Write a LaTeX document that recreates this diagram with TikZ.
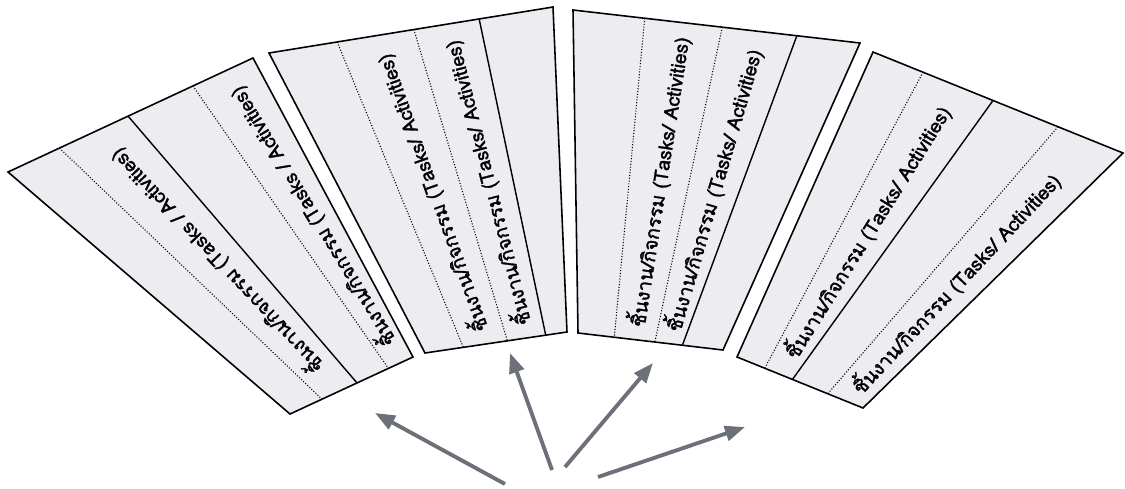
\documentclass[tikz,border=0pt]{standalone}
\usepackage{fontspec}
\newfontfamily\thaifont[Script=Thai, FakeBold=1.6]{Loma}
\usetikzlibrary{arrows.meta, calc}
\definecolor{isi}{RGB}{236,236,241}
\definecolor{abupanah}{RGB}{108,112,120}

\begin{document}
\begin{tikzpicture}[
    x=0.02cm, y=-0.02cm,
    lembar/.style={draw, line width=0.9pt, fill=isi},
    sekat/.style={line width=0.8pt},
    sekattitik/.style={line width=0.6pt, densely dotted},
    teks/.style={font=\thaifont\fontsize{11}{13}\selectfont, sloped,
                 allow upside down, anchor=west, inner sep=0pt},
    panah/.style={-{Triangle[length=4mm, width=3mm]}, line width=2.2pt, draw=abupanah}
  ]
    \useasboundingbox (0,0) rectangle (1125,488);

    % lembar 1 (kiri)
    \coordinate (a1) at (8,172);   \coordinate (b1) at (253,58);
    \coordinate (c1) at (413,357); \coordinate (d1) at (290,414);
    \draw[lembar] (a1) -- (b1) -- (c1) -- (d1) -- cycle;
    \draw[sekattitik] ($(a1)!.21!(b1)$) -- ($(d1)!.26!(c1)$);
    \draw[sekat] ($(a1)!.49!(b1)$) -- ($(d1)!.545!(c1)$);
    \draw[sekattitik] ($(a1)!.755!(b1)$) -- ($(d1)!.80!(c1)$);
    \path ($(d1)!.40!(c1)$) -- ($(a1)!.35!(b1)$)
      node[teks, pos=.08] (t1a) {ชิ้นงาน/กิจกรรม (Tasks / Activities)};
    \path ($(d1)!.90!(c1)$) -- ($(a1)!.88!(b1)$)
      node[teks, pos=.06] (t1b) {ชิ้นงาน/กิจกรรม (Tasks / Activities)};

    % lembar 2
    \coordinate (a2) at (269,53);  \coordinate (b2) at (553,7);
    \coordinate (c2) at (567,332); \coordinate (d2) at (425,353);
    \draw[lembar] (a2) -- (b2) -- (c2) -- (d2) -- cycle;
    \draw[sekattitik] ($(a2)!.24!(b2)$) -- ($(d2)!.27!(c2)$);
    \draw[sekattitik] ($(a2)!.51!(b2)$) -- ($(d2)!.58!(c2)$);
    \draw[sekat] ($(a2)!.74!(b2)$) -- ($(d2)!.85!(c2)$);
    \path ($(d2)!.425!(c2)$) -- ($(a2)!.375!(b2)$)
      node[teks, pos=.04] (t2a) {ชิ้นงาน/กิจกรรม (Tasks/ Activities)};
    \path ($(d2)!.715!(c2)$) -- ($(a2)!.625!(b2)$)
      node[teks, pos=.04] (t2b) {ชิ้นงาน/กิจกรรม (Tasks/ Activities)};

    % lembar 3
    \coordinate (a3) at (573,10);  \coordinate (b3) at (860,43);
    \coordinate (c3) at (723,350); \coordinate (d3) at (578,333);
    \draw[lembar] (a3) -- (b3) -- (c3) -- (d3) -- cycle;
    \draw[sekattitik] ($(a3)!.25!(b3)$) -- ($(d3)!.25!(c3)$);
    \draw[sekattitik] ($(a3)!.52!(b3)$) -- ($(d3)!.53!(c3)$);
    \draw[sekat] ($(a3)!.78!(b3)$) -- ($(d3)!.72!(c3)$);
    \path ($(d3)!.39!(c3)$) -- ($(a3)!.385!(b3)$)
      node[teks, pos=.04] (t3a) {ชิ้นงาน/กิจกรรม (Tasks/ Activities)};
    \path ($(d3)!.625!(c3)$) -- ($(a3)!.65!(b3)$)
      node[teks, pos=.04] (t3b) {ชิ้นงาน/กิจกรรม (Tasks/ Activities)};

    % lembar 4 (kanan)
    \coordinate (a4) at (873,52);  \coordinate (b4) at (1123,153);
    \coordinate (c4) at (863,408); \coordinate (d4) at (737,357);
    \draw[lembar] (a4) -- (b4) -- (c4) -- (d4) -- cycle;
    \draw[sekattitik] ($(a4)!.20!(b4)$) -- ($(d4)!.22!(c4)$);
    \draw[sekat] ($(a4)!.48!(b4)$) -- ($(d4)!.44!(c4)$);
    \draw[sekattitik] ($(a4)!.74!(b4)$) -- ($(d4)!.72!(c4)$);
    \path ($(d4)!.33!(c4)$) -- ($(a4)!.34!(b4)$)
      node[teks, pos=.06] (t4a) {ชิ้นงาน/กิจกรรม (Tasks/ Activities)};
    \path ($(d4)!.86!(c4)$) -- ($(a4)!.87!(b4)$)
      node[teks, pos=.04] (t4b) {ชิ้นงาน/กิจกรรม (Tasks/ Activities)};

    % panah
    \coordinate (ekor1) at (505,484); \coordinate (ujung1) at (375,413);
    \coordinate (ekor2) at (552,470); \coordinate (ujung2) at (510,353);
    \coordinate (ekor3) at (565,467); \coordinate (ujung3) at (653,363);
    \coordinate (ekor4) at (598,477); \coordinate (ujung4) at (745,427);
    \draw[panah] (ekor1) -- (ujung1);
    \draw[panah] (ekor2) -- (ujung2);
    \draw[panah] (ekor3) -- (ujung3);
    \draw[panah] (ekor4) -- (ujung4);
\end{tikzpicture}
\end{document}
